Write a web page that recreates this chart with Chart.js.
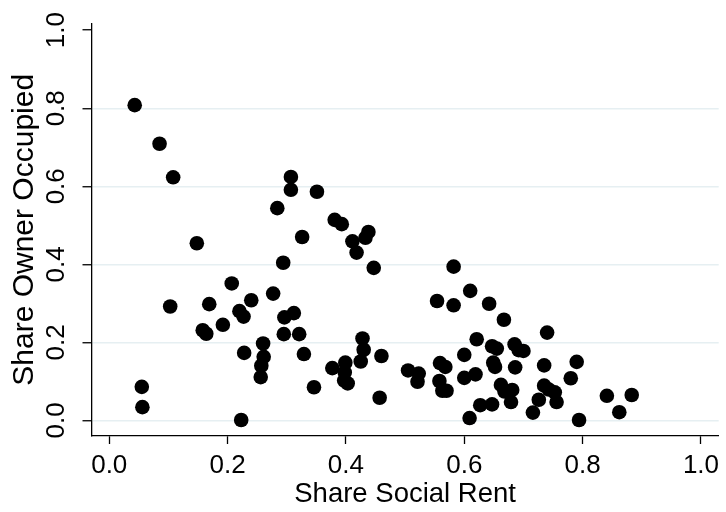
<!DOCTYPE html>
<html>
<head>
<meta charset="utf-8">
<script src="https://cdn.jsdelivr.net/npm/chart.js@4/dist/chart.umd.min.js"></script>
<style>
  body { margin: 0; background: #fff; }
  #wrap { width: 726px; height: 512px; }
</style>
</head>
<body>
<div id="wrap"><canvas id="grafsocial" width="726" height="512"></canvas></div>
<script>
// share social rent (x) vs share owner occupied (y), one pair per area
var socialRent = [
  0.043, 0.085, 0.108, 0.148, 0.103, 0.055, 0.056, 0.223, 0.284, 0.307,
  0.307, 0.326, 0.294, 0.207, 0.169, 0.240, 0.277, 0.220, 0.227, 0.192,
  0.158, 0.164, 0.296, 0.312, 0.295, 0.321, 0.329, 0.228, 0.260, 0.261,
  0.257, 0.256, 0.351, 0.381, 0.393, 0.411, 0.418, 0.438, 0.433, 0.447,
  0.346, 0.377, 0.399, 0.398, 0.397, 0.403, 0.428, 0.430, 0.425, 0.460,
  0.457, 0.582, 0.554, 0.582, 0.505, 0.523, 0.521, 0.559, 0.568, 0.558,
  0.570, 0.563, 0.610, 0.642, 0.667, 0.740, 0.621, 0.647, 0.655, 0.685,
  0.692, 0.700, 0.600, 0.649, 0.652, 0.686, 0.735, 0.790, 0.600, 0.619,
  0.662, 0.668, 0.681, 0.679, 0.627, 0.647, 0.609, 0.735, 0.743, 0.753,
  0.756, 0.726, 0.716, 0.780, 0.794, 0.841, 0.883, 0.862
];
var ownerOccupied = [
  0.808, 0.709, 0.623, 0.454, 0.292, 0.086, 0.034, 0.001, 0.544, 0.624,
  0.591, 0.470, 0.404, 0.351, 0.298, 0.308, 0.325, 0.280, 0.266, 0.245,
  0.231, 0.222, 0.264, 0.275, 0.221, 0.221, 0.170, 0.173, 0.197, 0.163,
  0.140, 0.111, 0.586, 0.514, 0.503, 0.459, 0.430, 0.483, 0.468, 0.391,
  0.085, 0.134, 0.148, 0.123, 0.102, 0.095, 0.210, 0.181, 0.151, 0.165,
  0.058, 0.394, 0.306, 0.295, 0.128, 0.120, 0.099, 0.147, 0.137, 0.101,
  0.076, 0.076, 0.332, 0.299, 0.258, 0.225, 0.208, 0.190, 0.184, 0.195,
  0.180, 0.178, 0.168, 0.148, 0.137, 0.136, 0.141, 0.150, 0.109, 0.118,
  0.091, 0.074, 0.078, 0.047, 0.039, 0.041, 0.006, 0.089, 0.079, 0.072,
  0.047, 0.053, 0.020, 0.108, 0.001, 0.063, 0.065, 0.021
];
var xTicks = [0, 0.2, 0.4, 0.6, 0.8, 1.0];
var yTicks = [0, 0.2, 0.4, 0.6, 0.8, 1.0];
var xTitle = "Share Social Rent";
var yTitle = "Share Owner Occupied";

var puntos = [];
for (var i in socialRent){
    puntos.push({x: socialRent[i], y: ownerOccupied[i]});
}

var fuente = "'Liberation Sans', Arial, Helvetica, sans-serif";

var grafsocial = new Chart(document.getElementById("grafsocial"), {
    type: "scatter",
    data: {
        datasets: [
        {
            data: puntos,
            backgroundColor: "#000",
            borderColor: "#000",
            borderWidth: 0,
            pointRadius: 7.3,
            pointHoverRadius: 7.3,
        },
        ],
    },
    options: {
        responsive: false,
        animation: false,
        devicePixelRatio: 1,
        events: [],
        layout: { padding: { top: 20, right: 4, left: 0, bottom: 0 } },
        plugins: { legend: { display: false }, tooltip: { enabled: false } },
        scales: {
            x: {
                type: "linear",
                min: -0.03,
                max: 1.03,
                afterBuildTicks: function(scale){ scale.ticks = xTicks.map(function(v){ return {value: v}; }); },
                afterFit: function(scale){ scale.height = 76; },
                ticks: {
                    autoSkip: false,
                    maxRotation: 0,
                    padding: 6,
                    color: "#000",
                    font: { family: fuente, size: 26 },
                    callback: function(v){ return Number(v).toFixed(1); },
                },
                grid: { drawOnChartArea: false, drawTicks: true, tickLength: 8, tickColor: "#000", tickWidth: 1.3 },
                border: { display: true, color: "#000", width: 1.3 },
                title: { display: true, text: xTitle, color: "#000", font: { family: fuente, size: 27.5 }, padding: { top: 0, bottom: 1 } },
            },
            y: {
                type: "linear",
                min: -0.04,
                max: 1.017,
                afterBuildTicks: function(scale){ scale.ticks = yTicks.map(function(v){ return {value: v}; }); },
                afterFit: function(scale){ scale.width = 91.5; },
                ticks: {
                    autoSkip: false,
                    minRotation: 90,
                    maxRotation: 90,
                    crossAlign: "center",
                    padding: 8,
                    color: "#000",
                    font: { family: fuente, size: 26 },
                    callback: function(v){ return Number(v).toFixed(1); },
                },
                grid: {
                    color: function(ctx){ return (ctx.tick && ctx.tick.value >= 1) ? "rgba(0,0,0,0)" : "#e6eff2"; },
                    lineWidth: 1.5,
                    drawTicks: true,
                    tickLength: 9,
                    tickColor: "#000",
                    tickWidth: 1.3,
                },
                border: { display: true, color: "#000", width: 1.3 },
                title: { display: true, text: yTitle, color: "#000", font: { family: fuente, size: 30 }, padding: { top: 7, bottom: 0 } },
            },
        },
    },
});
</script>
</body>
</html>
